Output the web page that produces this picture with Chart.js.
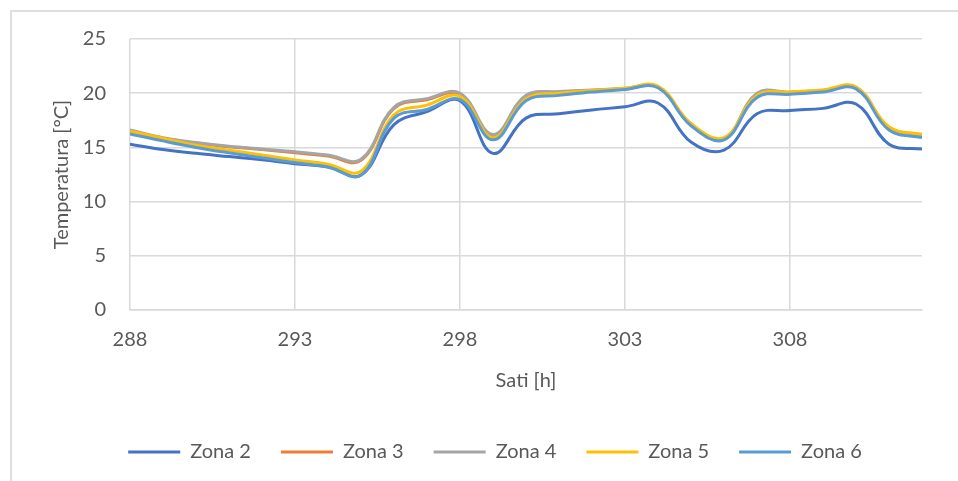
<!DOCTYPE html>
<html>
<head>
<meta charset="utf-8">
<script src="https://cdn.jsdelivr.net/npm/chart.js@4"></script>
<style>
  body { margin: 0; background: #fff; }
  #wrap { position: relative; width: 958px; height: 481px; overflow: hidden; }
  #frame { position: absolute; left: 10px; top: 10px; width: 960px; height: 480px; border: 2px solid #dedede; box-sizing: border-box; }
  #chart { position: absolute; left: 0; top: 0; }
</style>
</head>
<body>
<div id="wrap">
  <div id="frame"></div>
  <canvas id="chart" width="958" height="481"></canvas>
</div>
<script>
// sati (hours) 288..312
const hours = [288, 289, 290, 291, 292, 293, 294, 295, 296, 297, 298, 299, 300,
               301, 302, 303, 304, 305, 306, 307, 308, 309, 310, 311, 312];

const zona2 = [15.3, 14.8, 14.45, 14.15, 13.85, 13.5, 13.2, 12.45, 17.1, 18.3, 19.3, 14.45, 17.7,
               18.1, 18.45, 18.75, 19.1, 15.5, 14.75, 18.1, 18.4, 18.6, 19.0, 15.3, 14.85];
const zona3 = [16.5, 15.85, 15.4, 15.05, 14.8, 14.5, 14.2, 13.8, 18.6, 19.4, 19.9, 16.05, 19.7,
               20.1, 20.25, 20.4, 20.55, 17.05, 15.75, 19.9, 20.05, 20.2, 20.5, 16.75, 16.05];
const zona4 = [16.6, 15.9, 15.45, 15.1, 14.85, 14.6, 14.3, 13.9, 18.7, 19.5, 20.0, 16.2, 19.8,
               20.15, 20.3, 20.45, 20.6, 17.1, 15.8, 20.0, 20.1, 20.25, 20.55, 16.8, 16.1];
const zona5 = [16.5, 15.85, 15.2, 14.75, 14.3, 13.85, 13.45, 12.8, 18.0, 18.9, 19.7, 15.9, 19.5,
               20.0, 20.25, 20.45, 20.65, 17.2, 15.9, 19.8, 20.1, 20.3, 20.6, 16.9, 16.2];
const zona6 = [16.25, 15.6, 15.0, 14.5, 14.05, 13.6, 13.2, 12.45, 17.7, 18.5, 19.4, 15.7, 19.3,
               19.8, 20.1, 20.35, 20.5, 17.0, 15.7, 19.6, 19.9, 20.1, 20.4, 16.6, 15.9];

const xTicks = [288, 293, 298, 303, 308];
const yTicks = [0, 5, 10, 15, 20, 25];

const seriesNames = ['Zona 2', 'Zona 3', 'Zona 4', 'Zona 5', 'Zona 6'];
const seriesData = [zona2, zona3, zona4, zona5, zona6];
const seriesColors = ['#4472C4', '#ED7D31', '#A5A5A5', '#FFC000', '#5B9BD5'];

const txt = '#595959';
const gridCol = '#d9d9d9';
const fontFam = 'Lato, "Open Sans", sans-serif';
const fs = 20;

const datasets = seriesNames.map((name, i) => ({
    label: name,
    data: hours.map((h, j) => ({ x: h, y: seriesData[i][j] })),
    borderColor: seriesColors[i],
    backgroundColor: seriesColors[i],
    borderWidth: 3,
    pointRadius: 0,
    pointStyle: 'line',
    tension: 0.4,
    fill: false,
    order: seriesNames.length - i   // Zona 6 drawn on top, like Excel
}));

// legenda centrirana ispod plot area, ne ispod cijelog platna
const legendShift = {
    id: 'legendShift',
    afterLayout(chart) {
        const lg = chart.legend;
        if (lg) { lg.left += 34; lg.right += 34; }
    }
};

new Chart(document.getElementById('chart'), {
    type: 'line',
    data: { datasets },
    plugins: [legendShift],
    options: {
        responsive: false,
        animation: false,
        layout: { padding: { left: 0, right: 36, top: 39, bottom: 9 } },
        plugins: {
            tooltip: { enabled: false },
            legend: {
                position: 'bottom',
                labels: {
                    usePointStyle: true,
                    pointStyle: 'line',
                    pointStyleWidth: 52,
                    padding: 30,
                    color: txt,
                    font: { family: fontFam, size: fs },
                    sort: (a, b) => a.datasetIndex - b.datasetIndex
                }
            }
        },
        scales: {
            x: {
                type: 'linear',
                min: 288,
                max: 312,
                afterBuildTicks: s => { s.ticks = xTicks.map(v => ({ value: v })); },
                afterFit: s => { s.height = 102; },
                grid: { color: gridCol, lineWidth: 1.5, drawTicks: false },
                border: { color: gridCol, width: 1.5 },
                ticks: { color: txt, padding: 18, font: { family: fontFam, size: fs }, maxRotation: 0 },
                title: {
                    display: true,
                    text: 'Sati [h]',
                    color: txt,
                    font: { family: fontFam, size: fs },
                    padding: { top: 0, bottom: 19 }
                }
            },
            y: {
                min: 0,
                max: 25,
                afterBuildTicks: s => { s.ticks = yTicks.map(v => ({ value: v })); },
                afterFit: s => { s.width = 130; },
                grid: { color: gridCol, lineWidth: 1.5, drawTicks: false },
                border: { display: false },
                ticks: { color: txt, padding: 24, font: { family: fontFam, size: fs } },
                title: {
                    display: true,
                    text: 'Temperatura [°C]',
                    color: txt,
                    font: { family: fontFam, size: fs },
                    padding: { top: 50, bottom: 0 }
                }
            }
        }
    }
});
</script>
</body>
</html>
